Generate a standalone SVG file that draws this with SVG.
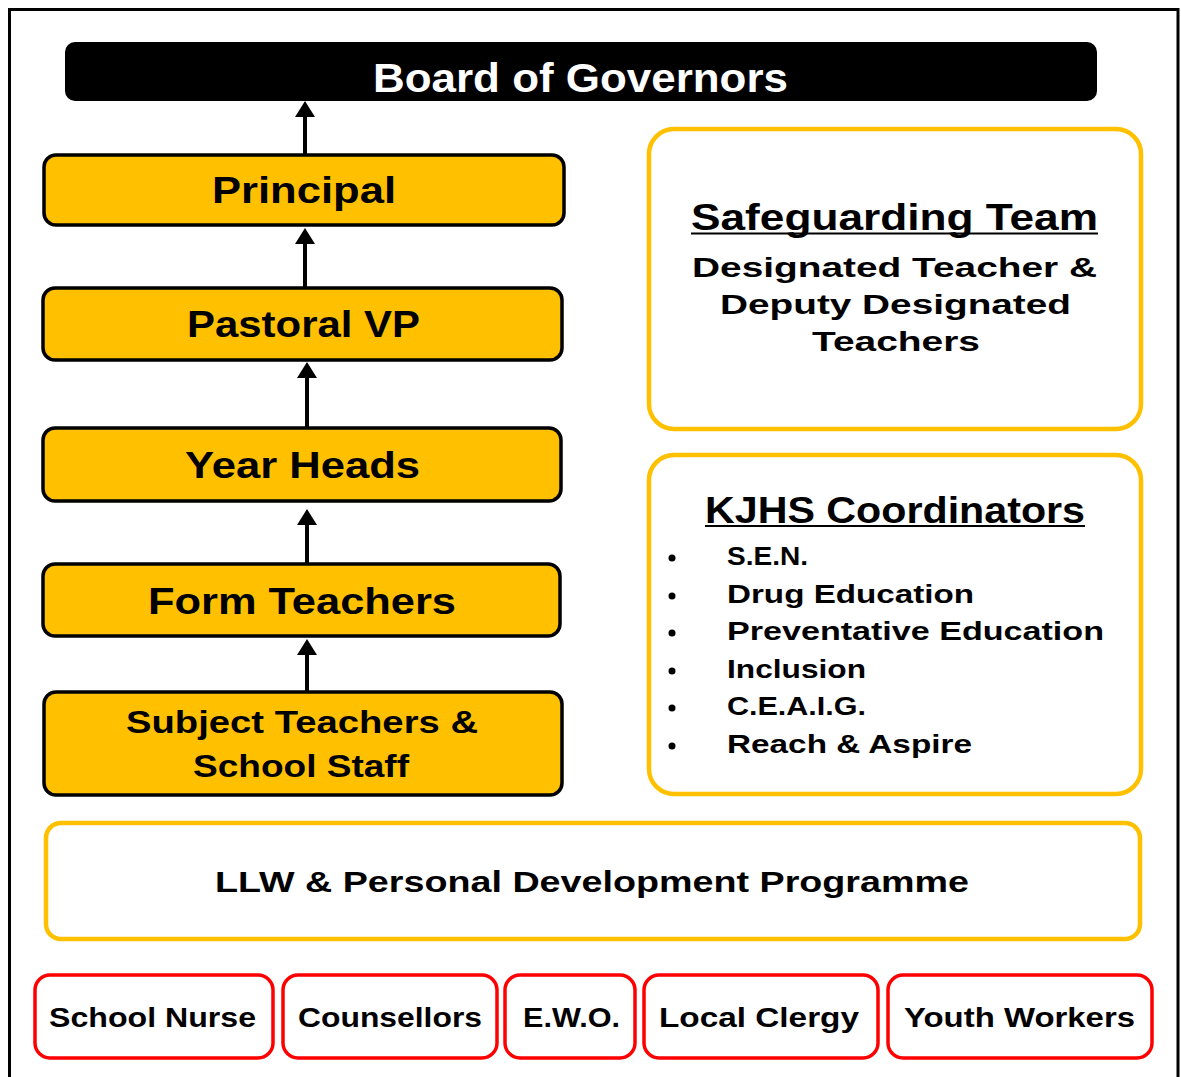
<svg xmlns="http://www.w3.org/2000/svg" width="1181" height="1077" viewBox="0 0 1181 1077">
<style>
text{font-family:"Liberation Sans",Arial,sans-serif;font-weight:bold;fill:#000}
.ybox{fill:#FFC000;stroke:#000;stroke-width:3.5}
.obox{fill:#fff;stroke:#FFC000;stroke-width:4.5}
.rbox{fill:#fff;stroke:#FF0000;stroke-width:3.5}
.conn{stroke:#000;stroke-width:4;fill:none}
.ul{stroke:#000;stroke-width:2}
</style>
<defs>
<marker id="ah" markerUnits="userSpaceOnUse" markerWidth="16" markerHeight="20" refX="0" refY="10" orient="auto" viewBox="0 0 16 20">
<path d="M0,0 L16,10 L0,20 Z" fill="#000"/>
</marker>
</defs>
<rect x="0" y="0" width="1181" height="1077" fill="#fff"/>
<rect x="9.5" y="9.5" width="1168.5" height="1080" fill="none" stroke="#000" stroke-width="3"/>

<g id="connectors">
<line class="conn" x1="305" y1="155" x2="305" y2="117" marker-end="url(#ah)"/>
<line class="conn" x1="305" y1="288" x2="305" y2="244" marker-end="url(#ah)"/>
<line class="conn" x1="307" y1="428" x2="307" y2="378" marker-end="url(#ah)"/>
<line class="conn" x1="307" y1="564" x2="307" y2="525" marker-end="url(#ah)"/>
<line class="conn" x1="307" y1="692" x2="307" y2="655" marker-end="url(#ah)"/>
</g>

<g id="board">
<rect x="65" y="42" width="1032" height="59" rx="10" fill="#000"/>
<text x="373" y="92" font-size="40" textLength="415" lengthAdjust="spacingAndGlyphs" style="fill:#fff">Board of Governors</text>
</g>

<g id="principal">
<rect class="ybox" x="44" y="155" width="520" height="70" rx="12"/>
<text x="212" y="203" font-size="36" textLength="184" lengthAdjust="spacingAndGlyphs">Principal</text>
</g>

<g id="pastoral">
<rect class="ybox" x="43" y="288" width="519" height="72" rx="12"/>
<text x="187" y="337" font-size="36" textLength="233" lengthAdjust="spacingAndGlyphs">Pastoral VP</text>
</g>

<g id="yearheads">
<rect class="ybox" x="43" y="428" width="518" height="73" rx="12"/>
<text x="185" y="478" font-size="36" textLength="235" lengthAdjust="spacingAndGlyphs">Year Heads</text>
</g>

<g id="formteachers">
<rect class="ybox" x="43" y="564" width="517" height="72" rx="12"/>
<text x="148" y="614" font-size="36" textLength="308" lengthAdjust="spacingAndGlyphs">Form Teachers</text>
</g>

<g id="subjectteachers">
<rect class="ybox" x="44" y="692" width="518" height="103" rx="12"/>
<text x="126" y="733" font-size="32" textLength="352" lengthAdjust="spacingAndGlyphs">Subject Teachers &amp;</text>
<text x="193" y="777" font-size="32" textLength="216" lengthAdjust="spacingAndGlyphs">School Staff</text>
</g>

<g id="safeguarding">
<rect class="obox" x="649" y="129" width="492" height="300" rx="25"/>
<text x="691" y="230" font-size="36" textLength="407" lengthAdjust="spacingAndGlyphs">Safeguarding Team</text>
<line class="ul" x1="691" y1="233.5" x2="1098" y2="233.5"/>
<text x="692" y="277" font-size="28" textLength="405" lengthAdjust="spacingAndGlyphs">Designated Teacher &amp;</text>
<text x="720" y="314" font-size="28" textLength="351" lengthAdjust="spacingAndGlyphs">Deputy Designated</text>
<text x="812" y="351" font-size="28" textLength="168" lengthAdjust="spacingAndGlyphs">Teachers</text>
</g>

<g id="coordinators">
<rect class="obox" x="649" y="455" width="492" height="339" rx="25"/>
<text x="705" y="523" font-size="37" textLength="380" lengthAdjust="spacingAndGlyphs">KJHS Coordinators</text>
<line class="ul" x1="705" y1="526" x2="1085" y2="526"/>
<circle cx="672" cy="558" r="3.5"/>
<circle cx="672" cy="596" r="3.5"/>
<circle cx="672" cy="633" r="3.5"/>
<circle cx="672" cy="671" r="3.5"/>
<circle cx="672" cy="708" r="3.5"/>
<circle cx="672" cy="746" r="3.5"/>
<text x="727" y="565" font-size="25" textLength="81" lengthAdjust="spacingAndGlyphs">S.E.N.</text>
<text x="727" y="603" font-size="25" textLength="247" lengthAdjust="spacingAndGlyphs">Drug Education</text>
<text x="727" y="640" font-size="25" textLength="377" lengthAdjust="spacingAndGlyphs">Preventative Education</text>
<text x="727" y="678" font-size="25" textLength="139" lengthAdjust="spacingAndGlyphs">Inclusion</text>
<text x="727" y="715" font-size="25" textLength="139" lengthAdjust="spacingAndGlyphs">C.E.A.I.G.</text>
<text x="727" y="753" font-size="25" textLength="245" lengthAdjust="spacingAndGlyphs">Reach &amp; Aspire</text>
</g>

<g id="llw">
<rect class="obox" x="46" y="823" width="1094" height="116" rx="15"/>
<text x="215" y="892" font-size="30" textLength="754" lengthAdjust="spacingAndGlyphs">LLW &amp; Personal Development Programme</text>
</g>

<g id="schoolnurse">
<rect class="rbox" x="35" y="975" width="238" height="83" rx="15"/>
<text x="49" y="1027" font-size="28" textLength="207" lengthAdjust="spacingAndGlyphs">School Nurse</text>
</g>
<g id="counsellors">
<rect class="rbox" x="283" y="975" width="214" height="83" rx="15"/>
<text x="298" y="1027" font-size="28" textLength="184" lengthAdjust="spacingAndGlyphs">Counsellors</text>
</g>
<g id="ewo">
<rect class="rbox" x="505" y="975" width="130" height="83" rx="15"/>
<text x="523" y="1027" font-size="28" textLength="97" lengthAdjust="spacingAndGlyphs">E.W.O.</text>
</g>
<g id="clergy">
<rect class="rbox" x="644" y="975" width="234" height="83" rx="15"/>
<text x="659" y="1027" font-size="28" textLength="200" lengthAdjust="spacingAndGlyphs">Local Clergy</text>
</g>
<g id="youthworkers">
<rect class="rbox" x="888" y="975" width="264" height="83" rx="15"/>
<text x="904" y="1027" font-size="28" textLength="231" lengthAdjust="spacingAndGlyphs">Youth Workers</text>
</g>
</svg>
